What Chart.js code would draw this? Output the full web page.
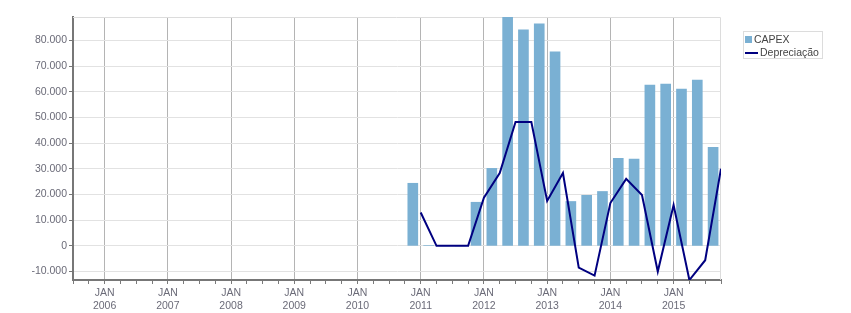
<!DOCTYPE html>
<html>
<head>
<meta charset="utf-8">
<title>CAPEX x Depreciação</title>
<script src="https://cdn.jsdelivr.net/npm/chart.js@4/dist/chart.umd.min.js"></script>
<style>
  html, body { margin: 0; padding: 0; background: #fff; }
  #wrap { position: relative; width: 851px; height: 313px; }
  #legend {
    position: absolute; left: 743px; top: 31px; width: 80px; height: 28px;
    border: 1px solid #dcdcdc; box-sizing: border-box; padding-top: 1px;
    font: 10.5px "Liberation Sans", Arial, sans-serif; color: #444;
  }
  .item { position: relative; height: 13px; line-height: 13px; white-space: nowrap; }
  .sym { position: absolute; }
</style>
</head>
<body>
<div id="wrap">
  <canvas id="chart" width="851" height="313"></canvas>
  <div id="legend"></div>
</div>
<script>
// trimestres (barra = trimestre, linha = fim do trimestre)
const quarters = [
  "2010-Q4", "2011-Q1", "2011-Q2", "2011-Q3", "2011-Q4",
  "2012-Q1", "2012-Q2", "2012-Q3", "2012-Q4", "2013-Q1",
  "2013-Q2", "2013-Q3", "2013-Q4", "2014-Q1", "2014-Q2",
  "2014-Q3", "2014-Q4", "2015-Q1", "2015-Q2", "2015-Q3"
];
const capex = [
  24400, 200, 0, 0, 17000,
  30200, 89200, 84200, 86500, 75600,
  17300, 19700, 21200, 34100, 33800,
  62700, 63100, 61100, 64600, 38400
];
const depreciacao = [
  13000, 0, 0, 0, 18800,
  28400, 48300, 48300, 17500, 28400,
  -8500, -11600, 16700, 26100, 19800,
  -10000, 15900, -13300, -5600, 30100
];
const seriesLabels = ["CAPEX", "Depreciação"];
const yTicks = [-10000, 0, 10000, 20000, 30000, 40000, 50000, 60000, 70000, 80000];
const axisStart = "2005-Q3";
const monthLabel = "JAN";

const BAR_COLOR = "#7ab0d3";
const LINE_COLOR = "#000080";
const TEXT_COLOR = "#6b6b78";
const FONT = { family: "'Liberation Sans', Arial, sans-serif", size: 10.5 };

function qNum(label) {
  const [y, q] = label.split("-Q").map(Number);
  return y * 4 + (q - 1);
}
const startNum = qNum(axisStart);
// posição (em trimestres) do início de cada trimestre
function qPos(label) { return qNum(label) - startNum; }
function isJan(v) { return (v + startNum) % 4 === 0; }
function yearOf(v) { return Math.floor((v + startNum) / 4); }

function fmt(v) {
  const s = String(Math.abs(v)).replace(/\B(?=(\d{3})+(?!\d))/g, ".");
  return (v < 0 ? "-" : "") + s;
}

const xMax = qPos(quarters[quarters.length - 1]) + 1;
const allVals = capex.concat(depreciacao);

// bordas do gráfico (topo e direita)
const frame = {
  id: "frame",
  beforeDatasetsDraw(chart) {
    const { ctx, chartArea: a } = chart;
    ctx.save();
    ctx.strokeStyle = "#dcdcdc";
    ctx.lineWidth = 1;
    ctx.beginPath();
    ctx.moveTo(a.left, a.top + 0.5);
    ctx.lineTo(a.right - 0.5, a.top + 0.5);
    ctx.lineTo(a.right - 0.5, a.bottom);
    ctx.stroke();
    ctx.restore();
  }
};

const chart = new Chart(document.getElementById("chart"), {
  data: {
    datasets: [
      {
        type: "line",
        label: seriesLabels[1],
        data: quarters.map((q, i) => ({ x: qPos(q) + 1, y: depreciacao[i] })),
        borderColor: LINE_COLOR,
        backgroundColor: LINE_COLOR,
        borderWidth: 2,
        pointRadius: 0,
        tension: 0,
        order: 1
      },
      {
        type: "bar",
        label: seriesLabels[0],
        data: quarters.map((q, i) => ({ x: qPos(q) + 0.5, y: capex[i] })),
        backgroundColor: BAR_COLOR,
        barThickness: 10,
        order: 2
      }
    ]
  },
  options: {
    responsive: false,
    animation: false,
    devicePixelRatio: 1,
    layout: { padding: { left: 0, top: 17, right: 130, bottom: 0 } },
    plugins: { legend: { display: false }, tooltip: { enabled: false } },
    scales: {
      x: {
        type: "linear",
        offset: false,
        min: 0,
        max: xMax,
        afterBuildTicks: (s) => {
          const t = [];
          for (let v = 0; v <= xMax; v++) t.push({ value: v });
          s.ticks = t;
        },
        afterFit: (s) => { s.height = 33; },
        grid: {
          offset: false,
          color: (c) => (c.tick && isJan(c.tick.value) ? "#b4b4b4" : "rgba(0,0,0,0)"),
          tickColor: "#7a7a7a",
          tickLength: 4
        },
        border: { color: "#777", width: 2 },
        ticks: {
          autoSkip: false,
          maxRotation: 0,
          padding: 3,
          color: TEXT_COLOR,
          font: FONT,
          callback: (v) => (isJan(v) ? [monthLabel, String(yearOf(v))] : "")
        }
      },
      y: {
        min: Math.min(...allVals),
        max: Math.max(...allVals),
        afterBuildTicks: (s) => { s.ticks = yTicks.map(v => ({ value: v })); },
        afterFit: (s) => { s.width = 73; },
        grid: { color: "#e2e2e2", tickColor: "#777", tickLength: 4 },
        border: { color: "#777", width: 2 },
        ticks: { padding: 2, color: TEXT_COLOR, font: FONT, callback: (v) => fmt(v) }
      }
    }
  },
  plugins: [frame]
});

// legenda em HTML
const legend = document.getElementById("legend");
const rows = [
  { label: seriesLabels[0], sym: `<span class="sym" style="left:1px;top:3px;width:7px;height:7px;background:${BAR_COLOR}"></span>`, textLeft: 10 },
  { label: seriesLabels[1], sym: `<span class="sym" style="left:1px;top:6px;width:13px;height:2px;background:${LINE_COLOR}"></span>`, textLeft: 16 }
];
legend.innerHTML = rows.map(r =>
  `<div class="item">${r.sym}<span class="sym" style="left:${r.textLeft}px">${r.label}</span></div>`
).join("");
</script>
</body>
</html>
